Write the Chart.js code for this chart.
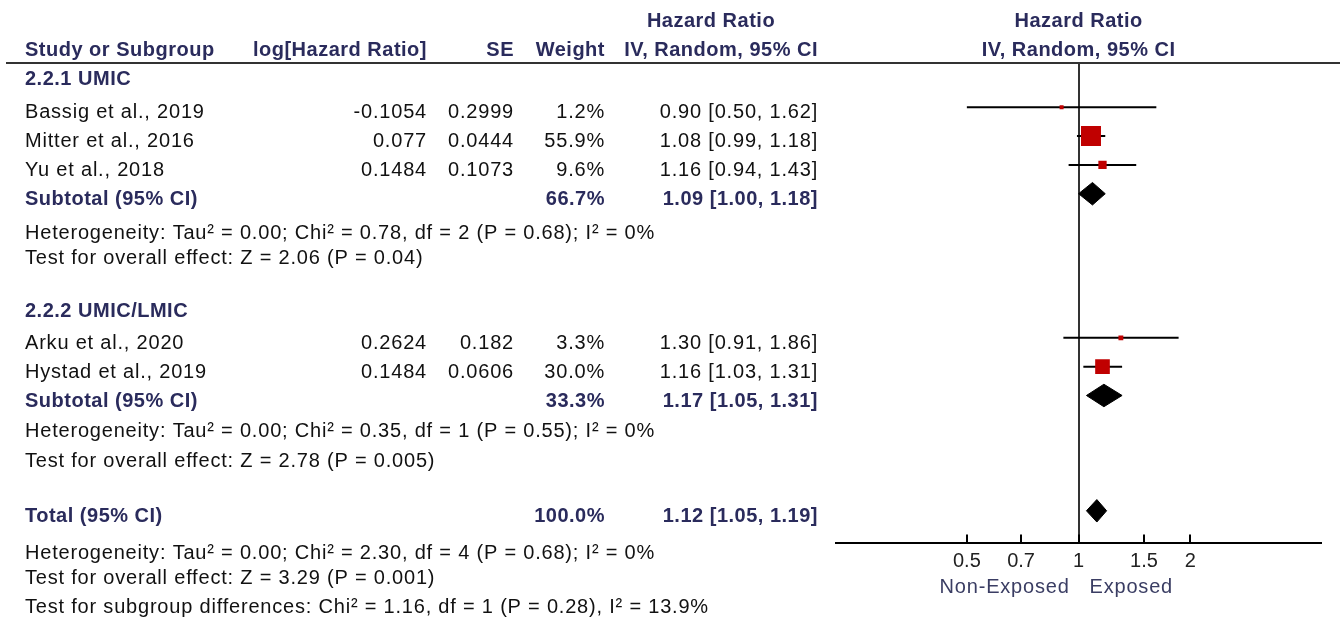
<!DOCTYPE html>
<html>
<head>
<meta charset="utf-8">
<title>Forest plot - Hazard Ratio</title>
<script src="https://cdn.jsdelivr.net/npm/chart.js@4.4.1/dist/chart.umd.min.js"></script>
<style>
  html, body { margin: 0; padding: 0; background: #fff; }
  canvas { display: block; }
</style>
</head>
<body>
<canvas id="forest" width="1340" height="617"></canvas>
<script>
// data
const groups = ["2.2.1 UMIC", "2.2.2 UMIC/LMIC"];
const studies = ["Bassig et al., 2019", "Mitter et al., 2016", "Yu et al., 2018", "Arku et al., 2020", "Hystad et al., 2019"];
const studyGroup = [0, 0, 0, 1, 1];
const logHR = [-0.1054, 0.077, 0.1484, 0.2624, 0.1484];
const se = [0.2999, 0.0444, 0.1073, 0.182, 0.0606];
const weights = [1.2, 55.9, 9.6, 3.3, 30.0];
const hr = [0.90, 1.08, 1.16, 1.30, 1.16];
const hrLow = [0.50, 0.99, 0.94, 0.91, 1.03];
const hrHigh = [1.62, 1.18, 1.43, 1.86, 1.31];

const subWeight = [66.7, 33.3];
const subHR = [1.09, 1.17];
const subLow = [1.00, 1.05];
const subHigh = [1.18, 1.31];
const subHet = [
  "Heterogeneity: Tau² = 0.00; Chi² = 0.78, df = 2 (P = 0.68); I² = 0%",
  "Heterogeneity: Tau² = 0.00; Chi² = 0.35, df = 1 (P = 0.55); I² = 0%"
];
const subTest = [
  "Test for overall effect: Z = 2.06 (P = 0.04)",
  "Test for overall effect: Z = 2.78 (P = 0.005)"
];

const totalWeight = 100.0;
const totalHR = 1.12;
const totalLow = 1.05;
const totalHigh = 1.19;
const totalNotes = [
  "Heterogeneity: Tau² = 0.00; Chi² = 2.30, df = 4 (P = 0.68); I² = 0%",
  "Test for overall effect: Z = 3.29 (P = 0.001)",
  "Test for subgroup differences: Chi² = 1.16, df = 1 (P = 0.28), I² = 13.9%"
];

const xTicks = [0.5, 0.7, 1, 1.5, 2];
const favours = ["Non-Exposed", "Exposed"];

// layout (row numbers on the y scale)
const studyRow = [1, 2, 3, 9, 10];
const groupRow = [-0.15, 7.91];
const subRow = [4, 11];
const hetRow = [5.2, 12.06];
const testRow = [6.06, 13.1];
const totalRow = 15;
const totalNoteRow = [16.28, 17.15, 18.17];
const headRow = [-2.15, -1.15];

const NAVY = "#2a2b5c";
const RED = "#c00000";
const REG = '20px "Liberation Sans", Arial, sans-serif';
const BOLD = 'bold 20px "Liberation Sans", Arial, sans-serif';
const DIAMOND_H = 0.39;

const fmtCI = (m, l, h) => m.toFixed(2) + " [" + l.toFixed(2) + ", " + h.toFixed(2) + "]";

function diamond(m, l, h, row) {
  return [
    { x: l, y: row }, { x: m, y: row - DIAMOND_H },
    { x: h, y: row }, { x: m, y: row + DIAMOND_H }, { x: l, y: row }
  ];
}

const datasets = [];

// point estimates (square size from weight)
datasets.push({
  data: studies.map((s, i) => ({ x: hr[i], y: studyRow[i] })),
  pointStyle: "rect",
  pointRadius: weights.map(w => Math.max(4, 20 * Math.sqrt(w / 55.9)) / Math.SQRT2),
  pointBackgroundColor: RED,
  pointBorderWidth: 0,
  showLine: false,
  order: 0
});

// confidence intervals
studies.forEach((s, i) => {
  datasets.push({
    data: [{ x: hrLow[i], y: studyRow[i] }, { x: hrHigh[i], y: studyRow[i] }],
    showLine: true,
    borderColor: "#000",
    borderWidth: 2,
    pointRadius: 0,
    order: 2
  });
});

// subtotal and total diamonds
const diamonds = [
  diamond(subHR[0], subLow[0], subHigh[0], subRow[0]),
  diamond(subHR[1], subLow[1], subHigh[1], subRow[1]),
  diamond(totalHR, totalLow, totalHigh, totalRow)
];
diamonds.forEach(d => {
  datasets.push({
    data: d,
    showLine: true,
    fill: "shape",
    backgroundColor: "#000",
    borderColor: "#000",
    borderWidth: 1,
    pointRadius: 0,
    tension: 0,
    order: 1
  });
});

const tablePlugin = {
  id: "table",
  afterDraw(chart) {
    const ctx = chart.ctx;
    const ys = chart.scales.y;
    const xs = chart.scales.x;
    const Y = r => ys.getPixelForValue(r) + 5.5;
    const x1 = xs.getPixelForValue(1);

    function txt(s, x, y, align, bold, color) {
      ctx.font = bold ? BOLD : REG;
      ctx.letterSpacing = bold ? "0.5px" : "0.8px";
      ctx.fillStyle = color || (bold ? NAVY : "#111");
      ctx.textAlign = align;
      ctx.textBaseline = "middle";
      ctx.fillText(s, x, y);
    }

    ctx.save();
    // header
    txt("Hazard Ratio", 711, Y(headRow[0]), "center", true);
    txt("Hazard Ratio", x1, Y(headRow[0]), "center", true);
    txt("Study or Subgroup", 25, Y(headRow[1]), "left", true);
    txt("log[Hazard Ratio]", 427, Y(headRow[1]), "right", true);
    txt("SE", 514, Y(headRow[1]), "right", true);
    txt("Weight", 605, Y(headRow[1]), "right", true);
    txt("IV, Random, 95% CI", 818, Y(headRow[1]), "right", true);
    txt("IV, Random, 95% CI", x1, Y(headRow[1]), "center", true);

    ctx.strokeStyle = "#333";
    ctx.lineWidth = 2;
    ctx.beginPath();
    ctx.moveTo(6, 63);
    ctx.lineTo(1340, 63);
    ctx.stroke();

    groups.forEach((g, gi) => {
      txt(g, 25, Y(groupRow[gi]), "left", true);
      studies.forEach((s, i) => {
        if (studyGroup[i] !== gi) return;
        const y = Y(studyRow[i]);
        txt(s, 25, y, "left");
        txt(String(logHR[i]), 427, y, "right");
        txt(String(se[i]), 514, y, "right");
        txt(weights[i].toFixed(1) + "%", 605, y, "right");
        txt(fmtCI(hr[i], hrLow[i], hrHigh[i]), 818, y, "right");
      });
      const ys2 = Y(subRow[gi]);
      txt("Subtotal (95% CI)", 25, ys2, "left", true);
      txt(subWeight[gi].toFixed(1) + "%", 605, ys2, "right", true);
      txt(fmtCI(subHR[gi], subLow[gi], subHigh[gi]), 818, ys2, "right", true);
      txt(subHet[gi], 25, Y(hetRow[gi]), "left");
      txt(subTest[gi], 25, Y(testRow[gi]), "left");
    });

    const yt = Y(totalRow);
    txt("Total (95% CI)", 25, yt, "left", true);
    txt(totalWeight.toFixed(1) + "%", 605, yt, "right", true);
    txt(fmtCI(totalHR, totalLow, totalHigh), 818, yt, "right", true);
    totalNotes.forEach((n, i) => txt(n, 25, Y(totalNoteRow[i]), "left"));

    // tick marks sit above the axis line
    ctx.strokeStyle = "#000";
    ctx.lineWidth = 2;
    const bottom = chart.chartArea.bottom;
    xTicks.forEach(v => {
      const px = Math.round(xs.getPixelForValue(v));
      ctx.beginPath();
      ctx.moveTo(px, bottom - 8);
      ctx.lineTo(px, bottom + 1);
      ctx.stroke();
    });

    // favours labels
    ctx.font = REG;
    ctx.letterSpacing = "0.8px";
    ctx.fillStyle = "#3a3d63";
    ctx.textBaseline = "middle";
    ctx.textAlign = "right";
    ctx.fillText(favours[0], x1 - 9, 587);
    ctx.textAlign = "left";
    ctx.fillText(favours[1], x1 + 11, 587);
    ctx.restore();
  }
};

new Chart(document.getElementById("forest"), {
  type: "scatter",
  data: { datasets: datasets },
  plugins: [tablePlugin],
  options: {
    responsive: false,
    animation: false,
    devicePixelRatio: 1,
    layout: { padding: { left: 836, right: 19, top: 64, bottom: 44.5 } },
    plugins: {
      legend: { display: false },
      tooltip: { enabled: false }
    },
    scales: {
      x: {
        type: "logarithmic",
        min: 0.222,
        max: 4.5,
        afterBuildTicks: (scale) => {
          scale.ticks = xTicks.map(v => ({ value: v }));
        },
        afterFit: (scale) => {
          scale.height = 30;
        },
        // only the line of no effect is drawn
        grid: {
          drawTicks: false,
          lineWidth: 2,
          color: (c) => (c.tick && c.tick.value === 1 ? "#333" : "rgba(0,0,0,0)")
        },
        border: { display: true, color: "#000", width: 2 },
        ticks: {
          autoSkip: false,
          maxRotation: 0,
          padding: 7,
          color: "#222",
          font: { family: '"Liberation Sans", Arial, sans-serif', size: 20 },
          callback: (v) => String(v)
        }
      },
      y: {
        type: "linear",
        display: false,
        reverse: true,
        min: -0.5,
        max: 16.1
      }
    }
  }
});
</script>
</body>
</html>
